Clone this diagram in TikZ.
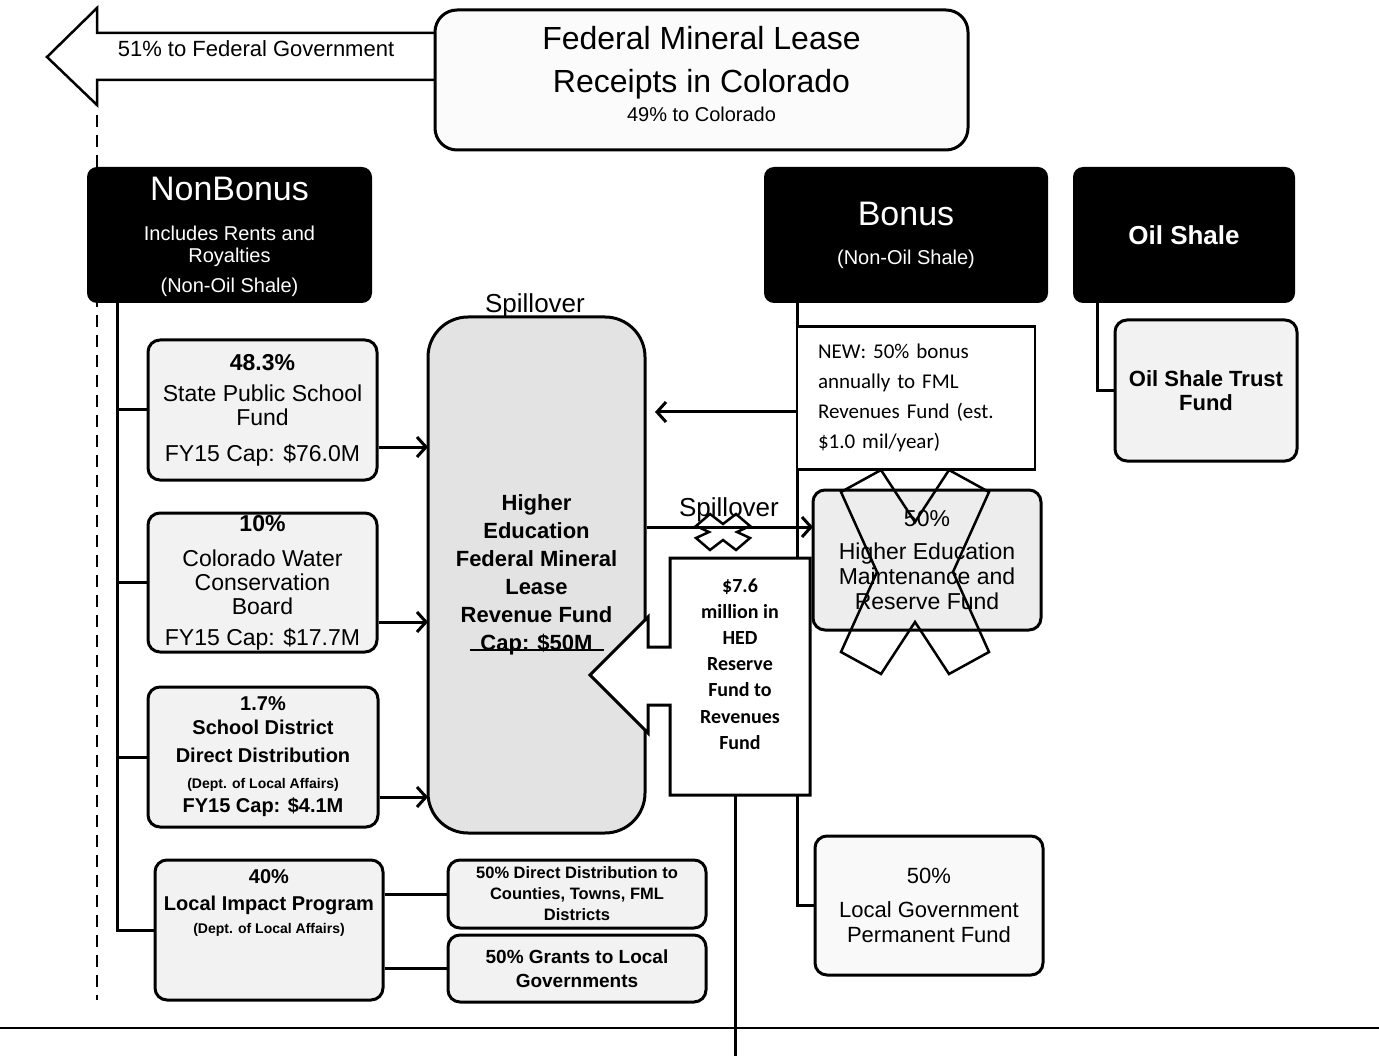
\documentclass[tikz,border=0pt]{standalone}
\usepackage{fontspec}
\setmainfont{Liberation Sans}
\newfontfamily\carl{Carlito}
\usetikzlibrary{arrows.meta}
\newcommand\fsz[2]{\fontsize{#1}{#2}\selectfont}
\begin{document}
\begin{tikzpicture}[x=1pt,y=-1pt,
  conn/.style={line width=3pt},
  arr/.style={line width=3pt,-{Straight Barb[length=9pt,width=20pt]}},
  fundbox/.style={draw,line width=3pt,rounded corners=12pt,fill=gray!10,align=center,inner sep=0pt},
  blk/.style={fill=black,rounded corners=10pt,text=white,align=center,inner sep=0pt},
  xshape/.style={line width=2.5pt,line join=miter},
]
\useasboundingbox (0,0) rectangle (1379,1056);

% left arrow to federal government
\draw[line width=2.5pt,fill=white,line join=miter] (437,33) -- (97,33) -- (97,8) -- (47,57) -- (97,105) -- (97,80) -- (437,80);
\node[font=\fsz{22}{24}] (fed) at (256,49) {51\% to Federal Government};

% title
\node[fundbox,fill=gray!3,rounded corners=22pt,minimum width=533pt,minimum height=140pt] (title) at (701.5,80) {};
\node[align=center,font=\fsz{32}{43}] (titletxt) at (701.5,74)
  {Federal Mineral Lease\\ Receipts in Colorado\\[-14pt] {\fsz{20}{24}49\% to Colorado}};

% dashed guide and bottom line
\coordinate (d1) at (97,115); \coordinate (d2) at (97,1000);
\draw[line width=1.2pt,dash pattern=on 12pt off 8pt] (d1) -- (d2);
\coordinate (bl) at (0,1028); \coordinate (br) at (1379,1028);
\draw[line width=2pt] (bl) -- (br);

% black headers
\node[blk,minimum width=285pt,minimum height=136pt] (nb) at (229.5,235) {};
\node[align=center,text=white,font=\fsz{20}{22}] (nbtxt) at (229.5,237)
  {{\fsz{34}{40}NonBonus}\\[18pt] Includes Rents and\\ Royalties\\[8pt] (Non-Oil Shale)};
\node[blk,minimum width=284pt,minimum height=136pt,font=\fsz{20}{22}] (bon) at (906,235)
  {{\fsz{34}{40}Bonus}\\[17pt] (Non-Oil Shale)};
\node[blk,minimum width=222pt,minimum height=136pt,font=\bfseries\fsz{26}{30}] (osh) at (1184,235)
  {Oil Shale};

% left column boxes
\node[fundbox,minimum width=229pt,minimum height=140pt,font=\fsz{23}{24}] (ps) at (262.5,410)
  {\textbf{48.3\%}\\[7pt] State Public School\\ Fund\\[12pt] FY15 Cap: \$76.0M};
\node[fundbox,minimum width=229pt,minimum height=139pt,font=\fsz{23}{24}] (cw) at (262.5,582.5)
  {\textbf{10\%}\\[11pt] Colorado Water\\ Conservation\\ Board\\[7pt] FY15 Cap: \$17.7M};
\node[fundbox,minimum width=230pt,minimum height=140pt,font=\bfseries\fsz{20}{24}] (sd) at (263,757)
  {1.7\%\\ School District\\[4pt] Direct Distribution\\[2pt] {\fsz{14}{16}(Dept. of Local Affairs)}\\ FY15 Cap: \$4.1M};
\node[fundbox,minimum width=228pt,minimum height=140pt] (lip) at (269,930) {};
\node[align=center,font=\bfseries\fsz{20}{24}] (liptxt) at (269,903)
  {40\%\\[3pt] Local Impact Program\\[-1pt] {\fsz{14}{16}(Dept. of Local Affairs)}};
\node[fundbox,minimum width=258pt,minimum height=68pt,font=\bfseries\fsz{16.5}{21}] (dd) at (577,894)
  {50\% Direct Distribution to\\ Counties, Towns, FML\\ Districts};
\node[fundbox,minimum width=258pt,minimum height=67pt,font=\bfseries\fsz{19}{24}] (gr) at (577,968.5)
  {50\% Grants to Local\\ Governments};

% trunk of NonBonus
\coordinate (ntop) at (117,303);
\draw[conn] (ntop) |- (lip.west);
\draw[conn] (ntop |- ps.west) -- (ps.west);
\draw[conn] (ntop |- cw.west) -- (cw.west);
\draw[conn] (ntop |- sd.west) -- (sd.west);
\draw[conn] (lip.east |- dd.west) -- (dd.west);
\draw[conn] (lip.east |- gr.west) -- (gr.west);

% Higher Education fund
\node[fundbox,fill=gray!22,rounded corners=40pt,minimum width=217pt,minimum height=516pt,font=\bfseries\fsz{22}{28}] (fund) at (536.5,575)
  {Higher\\ Education\\ Federal Mineral\\ Lease\\ Revenue Fund\\ Cap: \$50M};
\coordinate (st1) at (470,650); \coordinate (st2) at (604,650);
\draw[line width=2pt] (st1) -- (st2);
\node[font=\fsz{26}{28},anchor=base] (spill1) at (535,313) {Spillover};

\coordinate (f1) at (428,447); \coordinate (f2) at (428,622); \coordinate (f3) at (428,797);
\draw[arr] (ps.east |- f1) -- (f1);
\draw[arr] (cw.east |- f2) -- (f2);
\draw[arr] (sd.east |- f3) -- (f3);

% Bonus side
\node[fundbox,fill=gray!5,minimum width=228pt,minimum height=139pt,font=\fsz{22}{25}] (lg) at (929,905.5)
  {50\%\\[9pt] Local Government\\ Permanent Fund};
\coordinate (btop) at (797,303);
\draw[conn] (btop) |- (lg.west);
\node[draw,line width=2.5pt,fill=white,inner sep=0pt,minimum width=238pt,minimum height=143pt,text width=196pt,align=left,font=\carl\fsz{21}{30}] (new) at (916,398)
  {NEW: 50\% bonus\\ annually to FML\\ Revenues Fund (est.\\ \$1.0 mil/year)};
\coordinate (fa) at (655,412);
\draw[arr] (btop |- fa) -- (fa);

\node[fundbox,fill=gray!14,minimum width=228pt,minimum height=140pt,font=\fsz{23}{25}] (hm) at (927,560)
  {50\%\\[8pt] Higher Education\\ Maintenance and\\ Reserve Fund};
\coordinate (sp) at (813,527);
\draw[arr] (fund.east |- sp) -- (sp);
\node[font=\fsz{26}{28},anchor=base] (spill2) at (729,516) {Spillover};

% Oil shale
\node[fundbox,minimum width=182pt,minimum height=141pt,font=\bfseries\fsz{22}{24}] (ost) at (1206,390.5)
  {Oil Shale Trust\\ Fund};
\coordinate (otop) at (1097,303);
\draw[conn] (otop) |- (ost.west);

% callout arrow
\draw[line width=3pt,fill=white,line join=miter] (670,558) -- (810,558) -- (810,795) -- (670,795) -- (670,705) -- (648,705) -- (648,733) -- (590,675) -- (648,617) -- (648,647) -- (670,647) -- cycle;
\node[align=center,font={\carl\bfseries\fsz{20}{26.2}}] (hed) at (740,664)
  {\$7.6\\ million in\\ HED\\ Reserve\\ Fund to\\ Revenues\\ Fund};
\coordinate (hedbot) at (735,795); \coordinate (pagebot) at (735,1056);
\draw[conn] (hedbot) -- (pagebot);

% crosses
\draw[xshape] (915,522) -- (949,470) -- (989,492) -- (953,572) -- (989,652) -- (949,674) -- (915,622) -- (881,674) -- (841,652) -- (877,572) -- (841,492) -- (881,470) -- cycle;
\draw[xshape] (723,524) -- (736,514) -- (750,526) -- (737,532) -- (750,538) -- (736,550) -- (723,540) -- (710,550) -- (696,538) -- (709,532) -- (696,526) -- (710,514) -- cycle;
\end{tikzpicture}
\end{document}
